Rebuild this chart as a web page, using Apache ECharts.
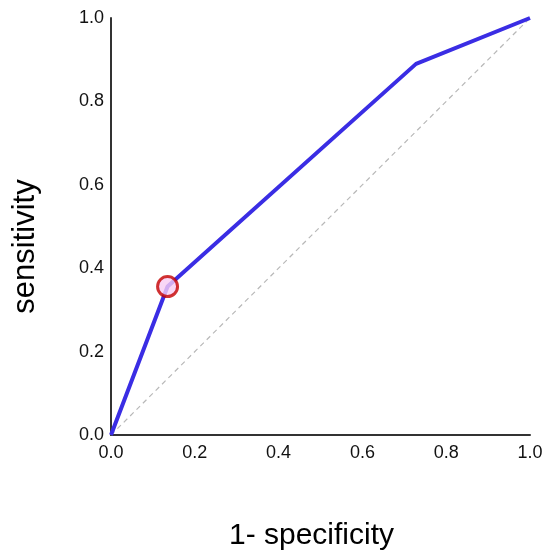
<!DOCTYPE html>
<html>
<head>
<meta charset="utf-8">
<script src="https://cdn.jsdelivr.net/npm/echarts@6/dist/echarts.min.js"></script>
<style>
  html, body { margin: 0; padding: 0; background: #fff; }
  #chart { width: 550px; height: 560px; }
</style>
</head>
<body>
<div id="chart"></div>
<script>
// ROC curve points: [1 - specificity, sensitivity]
const fpr = [0, 0.135, 0.728, 1.0]
const tpr = [0, 0.356, 0.89, 1.0]
// chosen cut-off point
const cutoff = [0.135, 0.356]
// reference diagonal
const diagX = [0, 1]
const diagY = [0, 1]
const ticks = ['0.0', '0.2', '0.4', '0.6', '0.8', '1.0']

const chart = echarts.init(document.getElementById('chart'))

const font = '"Liberation Sans", Arial, sans-serif'

const option = {
    animation: false,
    grid: { left: 111, right: 20, top: 18, bottom: 125, outerBoundsMode: 'none', containLabel: false },
    xAxis: {
        type: 'value', min: 0, max: 1, interval: 0.2,
        name: '1- specificity', nameLocation: 'middle', nameGap: 86,
        nameTextStyle: { fontSize: 30, color: '#000', fontFamily: font, padding: [0, 18, 0, 0] },
        axisLine: { lineStyle: { color: '#333', width: 2 } },
        axisTick: { show: false },
        splitLine: { show: false },
        axisLabel: {
            fontSize: 18, color: '#111', fontFamily: font, margin: 9,
            formatter: v => ticks[Math.round(v * 5)]
        }
    },
    yAxis: {
        type: 'value', min: 0, max: 1, interval: 0.2,
        name: 'sensitivity', nameLocation: 'middle', nameGap: 70,
        nameTextStyle: { fontSize: 31, color: '#000', fontFamily: font, padding: [0, 40, 0, 0] },
        axisLine: { show: true, lineStyle: { color: '#333', width: 2 } },
        axisTick: { show: false },
        splitLine: { show: false },
        axisLabel: {
            fontSize: 18, color: '#111', fontFamily: font, margin: 7,
            formatter: v => ticks[Math.round(v * 5)]
        }
    },
    series: [
        {
            type: 'line',
            data: diagX.map((x, i) => [x, diagY[i]]),
            symbol: 'none',
            lineStyle: { color: '#b8b8b8', width: 1.2, type: [5, 4] },
            z: 1
        },
        {
            type: 'line',
            data: fpr.map((x, i) => [x, tpr[i]]),
            symbol: 'none',
            lineStyle: { color: '#3a2de4', width: 4 },
            z: 2
        },
        {
            type: 'scatter',
            data: [cutoff],
            symbolSize: 20,
            itemStyle: { color: '#f8cdf4', borderColor: '#c40000', borderWidth: 3 },
            z: 3
        }
    ]
}

chart.setOption(option)
</script>
</body>
</html>
